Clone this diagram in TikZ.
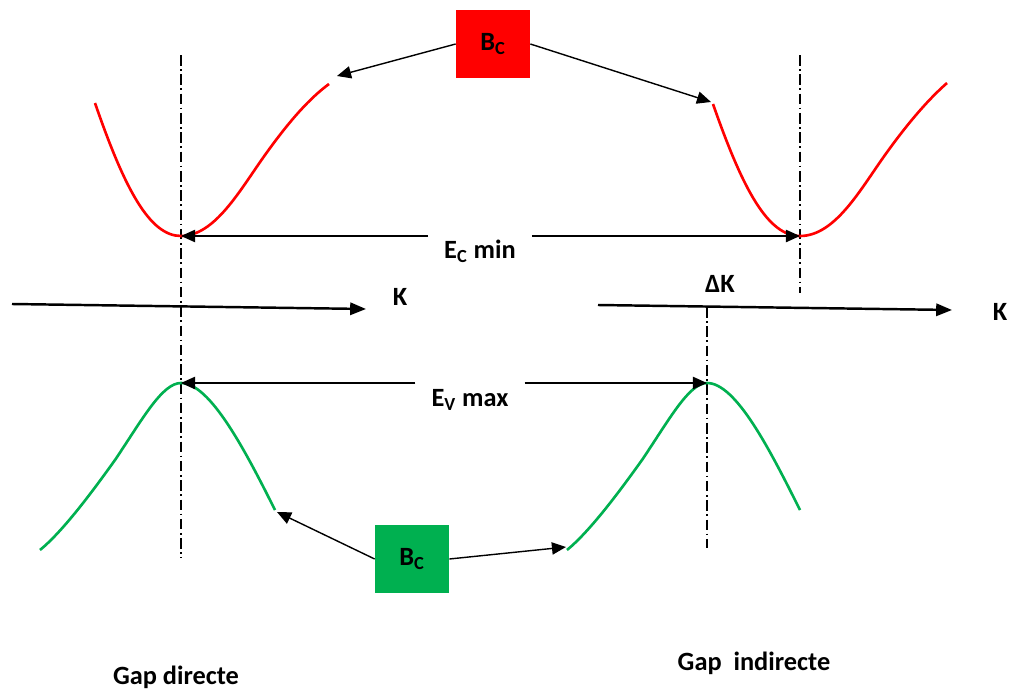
\documentclass[tikz,border=0pt]{standalone}
\usepackage{fontspec}
\setmainfont{Carlito}
\usetikzlibrary{arrows.meta}
\definecolor{bandgreen}{RGB}{0,176,80}

\begin{document}
\begin{tikzpicture}[x=0.02cm,y=-0.02cm,>={Triangle[length=8pt,width=7pt]},
      every node/.style={font=\fontsize{15}{18}\selectfont\bfseries},
      band box/.style={minimum width=1.48cm,minimum height=1.36cm,inner sep=0pt},
      gap label/.style={inner xsep=9pt,inner ysep=1pt},
      axis line/.style={line width=1.4pt,-{Triangle[length=9pt,width=7pt]}},
      band line/.style={line width=1.5pt},
      link/.style={->,line width=0.8pt},
      guide line/.style={line width=0.6pt,dash pattern=on 6pt off 2pt on 1pt off 2pt}]
  \useasboundingbox (0,0) rectangle (1019,693);

  % points of the bands
  \coordinate (cla) at (95,103);
  \coordinate (clmin) at (181,236);
  \coordinate (clb) at (329,84);
  \coordinate (cra) at (713,104);
  \coordinate (crmin) at (800,236);
  \coordinate (crb) at (947,83);
  \coordinate (vla) at (40,550);
  \coordinate (vlmax) at (181,383);
  \coordinate (vlb) at (275,510);
  \coordinate (vra) at (567,550);
  \coordinate (vrmax) at (707,383);
  \coordinate (vrb) at (800,510);

  % guides
  \draw[guide line] (181,55) -- (181,558);
  \draw[guide line] (800,55) -- (800,293);
  \draw[guide line] (707,307) -- (707,548);

  % axes
  \coordinate (kla) at (12,304);
  \coordinate (klb) at (366,309);
  \coordinate (kra) at (598,305);
  \coordinate (krb) at (952,310);
  \draw[axis line] (kla) -- (klb);
  \draw[axis line] (kra) -- (krb);
  \node (kl) at (400,297) {K};
  \node (kr) at (1000,312) {K};
  \node (dk) at (720,284) {ΔK};

  % bands
  \draw[red,band line] (cla) .. controls (125,190) and (150,236) .. (clmin)
    .. controls (215,236) and (240,190) .. (265,155) .. controls (290,120) and (310,98) .. (clb);
  \draw[red,band line] (cra) .. controls (743,190) and (768,236) .. (crmin)
    .. controls (835,236) and (860,190) .. (885,155) .. controls (910,120) and (930,98) .. (crb);
  \draw[bandgreen,band line] (vla) .. controls (62,532) and (90,495) .. (115,460)
    .. controls (142,420) and (162,383) .. (vlmax) .. controls (210,383) and (245,450) .. (vlb);
  \draw[bandgreen,band line] (vra) .. controls (589,532) and (617,495) .. (642,460)
    .. controls (669,420) and (689,383) .. (vrmax) .. controls (736,383) and (770,450) .. (vrb);

  % gaps
  \node[gap label] (ecmin) at (480,251) {E\textsubscript{C} min};
  \node[gap label] (evmax) at (470,400) {E\textsubscript{V} max};
  \draw[link] (clmin -| ecmin.west) -- (clmin);
  \draw[link] (clmin -| ecmin.east) -- (crmin);
  \draw[link] (vlmax -| evmax.west) -- (vlmax);
  \draw[link] (vlmax -| evmax.east) -- (vrmax);

  % boxes
  \node[band box,fill=red] (bcred) at (493,44) {B\textsubscript{C}};
  \node[band box,fill=bandgreen] (bcgreen) at (412,559) {B\textsubscript{C}};
  \coordinate (tipa) at (337,76);
  \coordinate (tipb) at (711,102);
  \coordinate (tipc) at (277,512);
  \coordinate (tipd) at (566,547);
  \draw[link] (bcred.west) -- (tipa);
  \draw[link] (bcred.east) -- (tipb);
  \draw[link] (bcgreen.west) -- (tipc);
  \draw[link] (bcgreen.east) -- (tipd);

  \node (gd) at (176,677) {Gap directe};
  \node (gi) at (754,663) {Gap\ \ indirecte};
\end{tikzpicture}
\end{document}
